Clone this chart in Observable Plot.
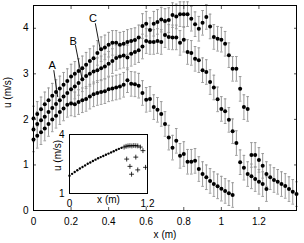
<!DOCTYPE html>
<html><head><meta charset="utf-8">
<script src="https://cdn.jsdelivr.net/npm/d3@7"></script>
<script src="https://cdn.jsdelivr.net/npm/@observablehq/plot@0.6"></script>
<style>
html,body{margin:0;padding:0;background:#fff;}
#wrap{position:relative;width:304px;height:243px;overflow:hidden;}
#inset{position:absolute;left:40px;top:125px;}
</style></head><body><div id="wrap"><div id="main"></div><div id="inset"></div></div>
<script>
// sample positions (m)
const xs = [0,0.02,0.04,0.06,0.08,0.10,0.12,0.14,0.16,0.18,0.20,0.22,0.24,0.26,0.28,0.30,0.32,0.34,0.36,0.38,0.40,0.42,0.44,0.46,0.48,0.50,0.52,0.54,0.56,0.58,0.60,0.62,0.64,0.66,0.68,0.70,0.72,0.74,0.76,0.78,0.80,0.82,0.84,0.86,0.88,0.90,0.92,0.94,0.96,0.98,1.00,1.02,1.04,1.06,1.08,1.10,1.12,1.14,1.16,1.18,1.20,1.22,1.24,1.26,1.28,1.30,1.32,1.34,1.36,1.38,1.40];
const seriesA = [1.56,1.64,1.72,1.80,1.90,2.00,2.08,2.16,2.24,2.32,2.35,2.33,2.38,2.42,2.45,2.50,2.55,2.58,2.60,2.62,2.66,2.68,2.70,2.72,2.76,2.86,2.78,2.77,2.74,2.58,2.43,2.45,2.27,2.21,2.12,1.90,1.60,1.38,1.53,1.20,1.24,1.07,1.07,1.09,0.91,0.80,0.73,0.65,0.58,0.53,0.48,0.43,0.38,0.34];
const seriesB = [1.78,1.90,1.98,2.06,2.16,2.25,2.34,2.42,2.50,2.58,2.66,2.72,2.80,2.88,2.95,3.00,3.05,3.08,3.12,3.16,3.22,3.28,3.35,3.38,3.40,3.36,3.44,3.48,3.52,3.60,3.72,3.70,3.70,3.72,3.70,3.85,3.81,3.80,3.80,3.68,3.75,3.48,3.46,3.33,3.30,3.08,3.04,2.82,2.70,2.44,2.23,2.18,1.99,1.74,1.48,1.06,0.94,0.80,0.75,0.69,0.63,0.58,0.47];
const seriesC = [2.02,2.12,2.22,2.33,2.42,2.52,2.60,2.68,2.76,2.84,2.94,3.00,3.06,3.12,3.20,3.28,3.34,3.46,3.54,3.58,3.64,3.68,3.68,3.64,3.66,3.70,3.72,3.74,3.80,4.05,4.10,3.96,4.10,4.14,4.19,4.16,4.18,4.29,4.26,4.31,4.31,4.31,4.21,4.09,3.99,4.12,4.25,4.04,3.81,3.77,3.75,3.66,3.41,3.11,3.11,2.67,2.27,2.23,1.22,1.22,1.11,0.98,0.80,0.73,0.67,0.63,0.58,0.54,0.47,0.41,0.36];
const errHalf = 0.27; // half-length of error bars (m/s)
const seriesNames = ["A","B","C"];
const xTicks = [0,0.2,0.4,0.6,0.8,1,1.2];
const xTickLabels = ["0","0.2","0.4","0.6","0.8","1","1.2"];
const yTicks = [0,1,2,3,4];
const yTickLabels = ["0","1","2","3","4"];
const xLabel = "x (m)";
const yLabel = "u (m/s)";
// curve labels and leader lines (data units)
const annX = [0.099,0.211,0.317];
const annY = [3.19,3.72,4.21];
const leadX1 = [0.108,0.223,0.329], leadY1 = [3.08,3.63,4.11];
const leadX2 = [0.129,0.258,0.355], leadY2 = [2.49,2.90,3.54];

// inset data
const insetDotX = [0,0.04,0.08,0.12,0.16,0.20,0.24,0.28,0.32,0.36,0.40,0.44,0.48,0.52,0.56,0.60,0.64,0.68,0.72,0.76,0.80];
const insetDotY = [1.90,2.00,2.09,2.18,2.27,2.35,2.43,2.51,2.58,2.65,2.72,2.79,2.85,2.91,2.97,3.03,3.09,3.15,3.21,3.27,3.32];
const insetPlusX = [0.84,0.87,0.90,0.93,0.96,0.99,1.02,1.05,1.09,1.13,0.88,0.93,0.955,1.02,1.05,1.17];
const insetPlusY = [3.36,3.40,3.42,3.43,3.42,3.44,3.43,3.42,3.36,3.18,2.75,2.38,1.98,2.85,2.20,2.33];
const insetXTicks = [0,1.2], insetXTickLabels = ["0","1.2"];
const insetYTicks = [1,4], insetYTickLabels = ["1","4"];

const rows = [];
[seriesA, seriesB, seriesC].forEach((s, k) => s.forEach((u, i) => rows.push({x: xs[i], u, s: seriesNames[k]})));
const ann = annX.map((x, i) => ({x, y: annY[i], t: seriesNames[i]}));
const leads = leadX1.map((x, i) => ({x1: x, y1: leadY1[i], x2: leadX2[i], y2: leadY2[i]}));
const cap = 0.007;
const font = "'Liberation Sans', Arial, Helvetica, sans-serif";
const errColor = "#999999";

const main = Plot.plot({
  width: 304, height: 243,
  marginLeft: 33, marginRight: 8, marginTop: 5, marginBottom: 33,
  x: {domain: [0, 1.4]},
  y: {domain: [0, 4.5]},
  style: {fontFamily: font, fontSize: "10px", color: "black", background: "white", overflow: "visible"},
  marks: [
    Plot.ruleX(rows, {x: "x", y1: d => d.u - errHalf, y2: d => d.u + errHalf, stroke: errColor, strokeWidth: 1}),
    Plot.link(rows, {x1: d => d.x - cap, x2: d => d.x + cap, y1: d => d.u + errHalf, y2: d => d.u + errHalf, stroke: errColor, strokeWidth: 1}),
    Plot.link(rows, {x1: d => d.x - cap, x2: d => d.x + cap, y1: d => d.u - errHalf, y2: d => d.u - errHalf, stroke: errColor, strokeWidth: 1}),
    Plot.dot(rows, {x: "x", y: "u", r: 2, fill: "black", stroke: "none"}),
    Plot.axisX({anchor: "bottom", ticks: xTicks, tickFormat: d => xTickLabels[xTicks.indexOf(d)], tickSize: -3, tickPadding: 10, label: null, stroke: "#555"}),
    Plot.axisX({anchor: "top", ticks: xTicks, tickFormat: () => "", tickSize: -3, label: null, stroke: "#555"}),
    Plot.axisY({anchor: "left", ticks: yTicks, tickFormat: d => yTickLabels[yTicks.indexOf(d)], tickSize: -3, tickPadding: 8, label: null, stroke: "#555"}),
    Plot.axisY({anchor: "right", ticks: yTicks, tickFormat: () => "", tickSize: -3, label: null, stroke: "#555"}),
    Plot.frame({stroke: "black"}),
    Plot.text([xLabel], {frameAnchor: "bottom", dy: 27, fontSize: 10}),
    Plot.text([yLabel], {frameAnchor: "left", dx: -26, rotate: -90, fontSize: 10}),
    Plot.link(leads, {x1: "x1", y1: "y1", x2: "x2", y2: "y2", stroke: "black", strokeWidth: 0.9}),
    Plot.text(ann, {x: "x", y: "y", text: "t", fontSize: 11})
  ]
});
document.getElementById("main").appendChild(main);

const insetDots = insetDotX.map((x, i) => ({x, y: insetDotY[i]}));
const insetPlus = insetPlusX.map((x, i) => ({x, y: insetPlusY[i]}));
const inset = Plot.plot({
  width: 115, height: 85,
  marginLeft: 29, marginTop: 9, marginRight: 8, marginBottom: 17,
  x: {domain: [0, 1.2]},
  y: {domain: [1, 4]},
  style: {fontFamily: font, fontSize: "10px", color: "black", background: "transparent", overflow: "visible"},
  marks: [
    Plot.frame({fill: "white", stroke: "black"}),
    Plot.dot(insetDots, {x: "x", y: "y", r: 1.2, fill: "black", stroke: "none"}),
    Plot.dot(insetPlus, {x: "x", y: "y", symbol: "plus", r: 1.7, stroke: "black", strokeWidth: 0.8}),
    Plot.axisX({ticks: insetXTicks, tickFormat: d => insetXTickLabels[insetXTicks.indexOf(d)], tickSize: 0, tickPadding: 6, label: null}),
    Plot.axisY({ticks: insetYTicks, tickFormat: d => insetYTickLabels[insetYTicks.indexOf(d)], tickSize: 0, tickPadding: 5, label: null}),
    Plot.text([xLabel], {frameAnchor: "bottom", dy: 9, fontSize: 10}),
    Plot.text([yLabel], {frameAnchor: "left", dx: -12, dy: 7, rotate: -90, fontSize: 10})
  ]
});
document.getElementById("inset").appendChild(inset);
</script></body></html>
